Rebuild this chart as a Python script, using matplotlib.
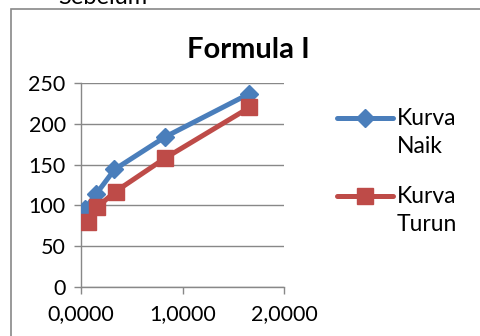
import matplotlib.pyplot as plt
from matplotlib.patches import Rectangle
from matplotlib.lines import Line2D

plt.rcParams['font.family'] = ['Lato', 'DejaVu Sans']

# data
x_naik = [0.04, 0.15, 0.33, 0.83, 1.66]
y_naik = [96, 114, 144, 184, 237]
x_turun = [0.07, 0.16, 0.34, 0.83, 1.66]
y_turun = [80, 98, 117, 158, 220]
xticks = [0, 1, 2]
xtick_labels = ['0,0000', '1,0000', '2,0000']
yticks = [0, 50, 100, 150, 200, 250]
series_labels = ['Kurva\nNaik', 'Kurva\nTurun']

W, H = 480, 336
fig = plt.figure(figsize=(4.8, 3.36), dpi=100)

# chart frame and cut-off caption above it
fig.patches.append(Rectangle((11 / W, -0.1), 1.2, 1 - 9 / H + 0.1,
                             transform=fig.transFigure, fill=False,
                             edgecolor='#888888', linewidth=1.2))
fig.text(58 / W, 1 - 4 / H, 'Sebelum', fontsize=17, va='baseline')

ax = fig.add_axes([81 / W, 1 - 287 / H, 203 / W, 204 / H])
styles = [dict(color='#4a7ebb', marker='D', ms=9),
          dict(color='#be4b48', marker='s', ms=12)]
ax.plot(x_naik, y_naik, lw=3.6, zorder=3, **styles[0])
ax.plot(x_turun, y_turun, lw=3.6, zorder=3, **styles[1])

ax.set_xlim(0, 2)
ax.set_ylim(0, 250)
ax.set_xticks(xticks)
ax.set_xticklabels(xtick_labels)
ax.set_yticks(yticks)
ax.grid(axis='y', color='#888888', lw=1)
ax.set_axisbelow(True)
for s in ['top', 'right']:
    ax.spines[s].set_visible(False)
for s in ['left', 'bottom']:
    ax.spines[s].set_color('#888888')
    ax.spines[s].set_linewidth(1)
ax.tick_params(colors='#888888', labelcolor='black', labelsize=15.5,
               length=5, width=1)
ax.tick_params(axis='x', pad=7)
ax.tick_params(axis='y', pad=6)

fig.text(248 / W, 1 - 50 / H, 'Formula I', fontsize=21, fontweight='bold',
         ha='center', va='center')

# legend drawn by hand so the handle sits on the first text line
for i, (lab, st) in enumerate(zip(series_labels, styles)):
    yl = 1 - (118 + 78 * i) / H
    fig.add_artist(Line2D([337 / W, 393 / W], [yl, yl], lw=3.6,
                          color=st['color'], solid_capstyle='round',
                          transform=fig.transFigure))
    fig.add_artist(Line2D([365 / W], [yl], transform=fig.transFigure,
                          ls='none', **st))
    fig.text(397 / W, yl + 10 / H, lab, fontsize=16.5, va='top',
             linespacing=1.4)

fig.savefig('out.png', dpi=100)
